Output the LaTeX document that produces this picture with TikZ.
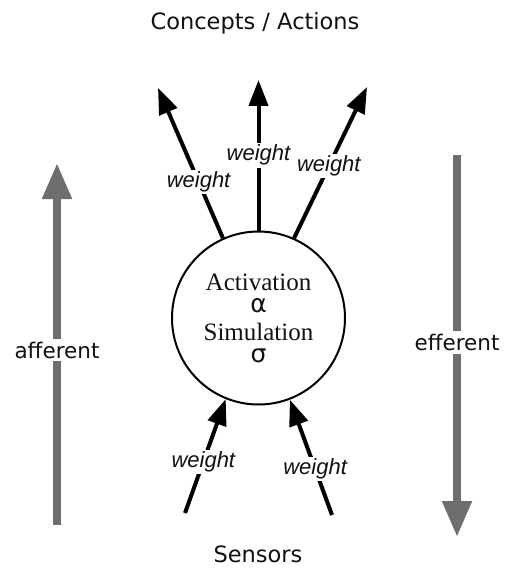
\documentclass[tikz,border=0pt]{standalone}
\usepackage{fontspec}
\usepackage{tikz}
\usetikzlibrary{arrows.meta,positioning}
\usepackage{xcolor}
\definecolor{flowgray}{HTML}{6E6E6E}
\definecolor{darktext}{HTML}{111111}
\newfontfamily\labelfont{DejaVu Sans}
\newfontfamily\weightfont{Liberation Sans}
\newfontfamily\corefont{Liberation Serif}

\begin{document}
\begin{tikzpicture}[
  x=1pt, y=-1pt,
  core/.style={circle, draw=black, line width=2pt, minimum size=173pt, inner sep=0pt,
               align=center, text=darktext,
               font=\corefont\fontsize{25}{25}\selectfont},
  heading/.style={font=\labelfont\fontsize{22.5}{24}\selectfont, text=darktext},
  link/.style={-{Triangle[width=19pt,length=26pt]}, line width=4pt, color=black},
  flow/.style={-{Triangle[width=28pt,length=36pt]}, line width=8pt, color=flowgray},
  wlabel/.style={font=\weightfont\itshape\fontsize{22}{24}\selectfont, fill=white,
                 inner sep=2pt, text=darktext},
  sidelabel/.style={font=\labelfont\fontsize{21.5}{24}\selectfont, fill=white,
                    inner sep=3pt, text=darktext},
]
  \useasboundingbox (0,0) rectangle (504,575);

  \node[core] (unit) at (258.5,318)
    {Activation\\[-3pt]{\labelfont\fontsize{25}{25}\selectfont α}\\[3pt]Simulation\\[-3pt]{\labelfont\fontsize{25}{25}\selectfont σ}};

  \node[heading] (top) at (255,23) {Concepts / Actions};
  \node[heading] (bottom) at (258,554) {Sensors};

  % free ends of the weighted links
  \coordinate (out-l) at (158,88);
  \coordinate (out-m) at (258.5,80);
  \coordinate (out-r) at (367,87);
  \coordinate (in-l) at (185,513);
  \coordinate (in-r) at (332,515);

  \draw[link] (unit.114) -- node[wlabel, pos=0.375] {weight} (out-l);
  \draw[link] (unit.90) -- node[wlabel, pos=0.5] {weight} (out-m);
  \draw[link] (unit.66) -- node[wlabel, pos=0.476] {weight} (out-r);
  \draw[link] (in-l) -- node[wlabel, pos=0.45] {weight} (unit.248);
  \draw[link] (in-r) -- node[wlabel, pos=0.4] {weight} (unit.291);

  % afferent / efferent flow
  \coordinate (aff-foot) at (57,525);
  \coordinate (aff-head) at (57,163);
  \coordinate (eff-foot) at (457,155);
  \coordinate (eff-head) at (457,537);

  \draw[flow] (aff-foot) -- node[sidelabel, pos=0.483] {afferent} (aff-head);
  \draw[flow] (eff-foot) -- node[sidelabel, pos=0.49] {efferent} (eff-head);
\end{tikzpicture}
\end{document}
